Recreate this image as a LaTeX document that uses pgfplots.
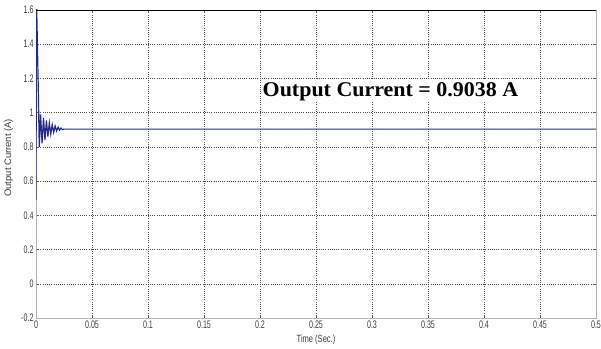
\documentclass[border=0pt]{standalone}
\usepackage{fontspec}
\setmainfont{Liberation Sans}[FakeStretch=0.65]
\newfontfamily\labfont{Liberation Sans}[FakeStretch=0.72]
\newfontfamily\ylabfont{Liberation Sans}
\newfontfamily\titlefont{Liberation Serif}[FakeStretch=1.05]
\usepackage{pgfplots}
\pgfplotsset{compat=1.18}
\definecolor{curve}{RGB}{35,40,140}
\definecolor{ticktext}{RGB}{60,60,60}
\begin{document}
\begin{tikzpicture}
\useasboundingbox (-36bp,-31bp) rectangle (565bp,318bp);
\begin{axis}[
  scale only axis,
  width=560bp, height=308bp,
  xmin=0, xmax=0.5, ymin=-0.2, ymax=1.6,
  xtick={0,0.05,...,0.5},
  ytick={-0.2,0,0.2,...,1.6},
  xticklabels={0,0.05,0.1,0.15,0.2,0.25,0.3,0.35,0.4,0.45,0.5},
  yticklabels={-0.2,0,0.2,0.4,0.6,0.8,1,1.2,1.4,1.6},
  /pgf/number format/assume math mode=true,
  tick label style={font=\fontsize{11}{12}\selectfont, text=ticktext},
  xticklabel style={yshift=1bp},
  yticklabel style={xshift=1bp},
  xlabel={Time (Sec.)},
  ylabel={Output Current (A)},
  xlabel style={font=\labfont\fontsize{10.5}{11}\selectfont, text=ticktext,
     at={(axis description cs:0.5,-0.071)}, anchor=center},
  ylabel style={font=\ylabfont\fontsize{9.5}{10}\selectfont, text=ticktext,
     at={(axis description cs:-0.0486,0.52)}, anchor=center},
  grid=major,
  major grid style={black!70, dash pattern=on 1pt off 1.2pt, line width=0.45pt},
  tick align=inside,
  major tick length=3bp,
  tick style={gray!70!black, line width=0.5pt},
  axis line style={gray!60, line width=1pt},
  clip=true,
]
\addplot[curve, line width=1.2pt] coordinates {
(0,0.49) (0.0004,1.68) (0.0012,1.42) (0.0021,1.12) (0.0029,0.80)
(0.0041,0.99) (0.0054,0.82) (0.0067,0.97) (0.0080,0.84) (0.0093,0.955)
(0.0106,0.86) (0.0119,0.94) (0.0132,0.875) (0.0145,0.93) (0.0158,0.885)
(0.0171,0.922) (0.0184,0.893) (0.0197,0.915) (0.0210,0.898) (0.0223,0.910)
(0.0236,0.901) (0.025,0.9038) (0.5,0.9038)
};
\draw[black, line width=1pt] (rel axis cs:0,1) -- (rel axis cs:1,1);
\node[fill=white, inner sep=2bp, font=\titlefont\bfseries\fontsize{21}{22}\selectfont] at (axis cs:0.3165,1.125) {Output Current = 0.9038 A};
\end{axis}
\end{tikzpicture}
\end{document}
